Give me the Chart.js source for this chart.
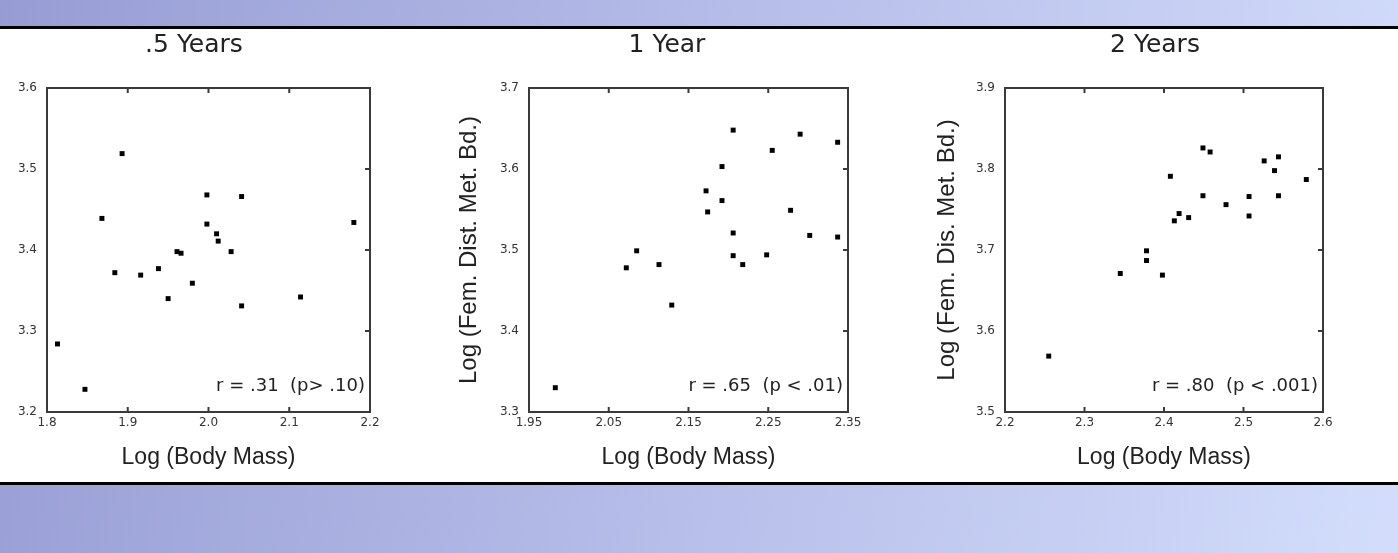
<!DOCTYPE html>
<html>
<head>
<meta charset="utf-8">
<script src="https://cdn.jsdelivr.net/npm/chart.js@4.4.1/dist/chart.umd.min.js"></script>
<style>
  html, body { margin: 0; padding: 0; }
  body {
    width: 1398px; height: 553px; overflow: hidden; position: relative;
    background: linear-gradient(100deg, #979dd4 0%, #b6bde9 50%, #d3ddfb 100%);
  }
  #sheet {
    position: absolute; left: 0; top: 26px; width: 1398px; height: 453px;
    background: #fff; border-top: 3px solid #000; border-bottom: 3px solid #000;
  }
  .panel { position: absolute; top: 29px; height: 453px; }
</style>
</head>
<body>
<div id="sheet"></div>
<div class="panel" style="left:-32px;width:452px"><canvas id="halfYear"></canvas></div>
<div class="panel" style="left:440px;width:454px"><canvas id="oneYear"></canvas></div>
<div class="panel" style="left:915px;width:480px"><canvas id="twoYears"></canvas></div>
<script>
// .5 years
var massHalf = [1.813, 1.847, 1.868, 1.884, 1.893, 1.916, 1.938, 1.950, 1.961, 1.966,
                1.980, 1.998, 1.998, 2.010, 2.012, 2.028, 2.041, 2.041, 2.114, 2.180]
var femHalf  = [3.284, 3.228, 3.439, 3.372, 3.519, 3.369, 3.377, 3.340, 3.398, 3.396,
                3.359, 3.468, 3.432, 3.420, 3.411, 3.398, 3.466, 3.331, 3.342, 3.434]
// 1 year
var massOne = [1.983, 2.072, 2.085, 2.113, 2.129, 2.172, 2.174, 2.192, 2.192, 2.206,
               2.206, 2.206, 2.218, 2.248, 2.255, 2.278, 2.290, 2.302, 2.337, 2.337]
var femOne  = [3.330, 3.478, 3.499, 3.482, 3.432, 3.573, 3.547, 3.603, 3.561, 3.648,
               3.521, 3.493, 3.482, 3.494, 3.623, 3.549, 3.643, 3.518, 3.633, 3.516]
// 2 years
var massTwo = [2.255, 2.345, 2.378, 2.378, 2.398, 2.408, 2.413, 2.419, 2.431, 2.449,
               2.449, 2.458, 2.478, 2.507, 2.507, 2.526, 2.539, 2.544, 2.544, 2.579]
var femTwo  = [3.569, 3.671, 3.699, 3.687, 3.669, 3.791, 3.736, 3.745, 3.740, 3.826,
               3.767, 3.821, 3.756, 3.766, 3.742, 3.810, 3.798, 3.815, 3.767, 3.787]

// tick values and their labels
var xTicksHalf = [1.8, 1.9, 2.0, 2.1, 2.2]
var xLabelsHalf = ['1.8', '1.9', '2.0', '2.1', '2.2']
var yTicksHalf = [3.2, 3.3, 3.4, 3.5, 3.6]
var yLabelsHalf = ['3.2', '3.3', '3.4', '3.5', '3.6']

var xTicksOne = [1.95, 2.05, 2.15, 2.25, 2.35]
var xLabelsOne = ['1.95', '2.05', '2.15', '2.25', '2.35']
var yTicksOne = [3.3, 3.4, 3.5, 3.6, 3.7]
var yLabelsOne = ['3.3', '3.4', '3.5', '3.6', '3.7']

var xTicksTwo = [2.2, 2.3, 2.4, 2.5, 2.6]
var xLabelsTwo = ['2.2', '2.3', '2.4', '2.5', '2.6']
var yTicksTwo = [3.5, 3.6, 3.7, 3.8, 3.9]
var yLabelsTwo = ['3.5', '3.6', '3.7', '3.8', '3.9']

var axisColor = '#3a3a3a'
var textColor = '#222'

// box around plot, inward tick marks, and the r / p note
var framePlugin = {
  id: 'frame',
  afterDatasetsDraw: function (chart, args, opts) {
    var ctx = chart.ctx
    var a = chart.chartArea
    var xs = chart.scales.x
    var ys = chart.scales.y
    ctx.save()
    ctx.strokeStyle = axisColor
    ctx.lineWidth = 2
    ctx.strokeRect(a.left, a.top, a.right - a.left, a.bottom - a.top)
    ctx.beginPath()
    for (var i = 1; i < xs.ticks.length - 1; i++) {
      var px = xs.getPixelForValue(xs.ticks[i].value)
      ctx.moveTo(px, a.top)
      ctx.lineTo(px, a.top + 5)
      ctx.moveTo(px, a.bottom)
      ctx.lineTo(px, a.bottom - 5)
    }
    for (var j = 1; j < ys.ticks.length - 1; j++) {
      var py = ys.getPixelForValue(ys.ticks[j].value)
      ctx.moveTo(a.right, py)
      ctx.lineTo(a.right - 5, py)
    }
    ctx.stroke()
    ctx.fillStyle = textColor
    ctx.font = '18px "DejaVu Sans", sans-serif'
    ctx.textAlign = 'right'
    ctx.textBaseline = 'middle'
    ctx.fillText(opts.note, a.right - 5, a.bottom - 26)
    ctx.restore()
  }
}

// pad = [left, right] layout padding, yAxisWidth = room for the y ticks,
// rightWidth = empty right scale that nudges the title sideways,
// yTitlePad pulls the y title out to the left of the scale box
function drawPanel(elementId, title, yTitle, note, xs, ys, xTicks, xLabels, yTicks, yLabels, yAxisWidth, rightWidth, yTitlePad, pad) {
  var ctx = document.getElementById(elementId).getContext('2d')
  var pts = []
  for (var i = 0; i < xs.length; i++) {
    pts.push({ x: xs[i], y: ys[i] })
  }
  return new Chart(ctx, {
    type: 'scatter',
    data: {
      datasets: [{
        data: pts,
        pointStyle: 'rect',
        pointRadius: 3.5,
        pointBorderWidth: 0,
        backgroundColor: '#000',
        borderColor: '#000'
      }]
    },
    options: {
      responsive: true,
      maintainAspectRatio: false,
      animation: false,
      layout: { padding: { top: 0, right: pad[1], bottom: 0, left: pad[0] } },
      plugins: {
        legend: { display: false },
        tooltip: { enabled: false },
        title: {
          display: true,
          text: title,
          color: textColor,
          font: { family: '"DejaVu Sans", sans-serif', size: 25, weight: 'normal', lineHeight: 1.2 },
          padding: { top: 1, bottom: 28 }
        },
        frame: { note: note }
      },
      scales: {
        x: {
          type: 'linear',
          min: xTicks[0],
          max: xTicks[xTicks.length - 1],
          afterBuildTicks: function (scale) {
            scale.ticks = xTicks.map(function (v) { return { value: v } })
          },
          afterFit: function (scale) { scale.height = 70 },
          grid: { display: false, drawTicks: false },
          border: { display: false },
          ticks: {
            padding: 4,
            color: '#333',
            maxRotation: 0,
            font: { family: '"DejaVu Sans", sans-serif', size: 12 },
            callback: function (v, i) { return xLabels[i] }
          },
          title: {
            display: true,
            text: 'Log (Body Mass)',
            color: textColor,
            font: { family: '"Liberation Sans", Arial, sans-serif', size: 23, lineHeight: 1.2 },
            padding: { top: 0, bottom: 11 }
          }
        },
        y: {
          type: 'linear',
          min: yTicks[0],
          max: yTicks[yTicks.length - 1],
          afterBuildTicks: function (scale) {
            scale.ticks = yTicks.map(function (v) { return { value: v } })
          },
          afterFit: function (scale) { scale.width = yAxisWidth },
          grid: { display: false, drawTicks: false },
          border: { display: false },
          ticks: {
            padding: 10,
            color: '#333',
            font: { family: '"DejaVu Sans", sans-serif', size: 12 },
            callback: function (v, i) { return yLabels[i] }
          },
          title: {
            display: true,
            text: yTitle,
            color: textColor,
            font: { family: '"Liberation Sans", Arial, sans-serif', size: 24, lineHeight: 1.2 },
            padding: { top: yTitlePad, bottom: 0 }
          }
        },
        yRight: {
          type: 'linear',
          position: 'right',
          min: yTicks[0],
          max: yTicks[yTicks.length - 1],
          afterFit: function (scale) { scale.width = rightWidth },
          grid: { display: false, drawTicks: false },
          border: { display: false },
          ticks: { display: false }
        }
      }
    },
    plugins: [framePlugin]
  })
}

drawPanel('halfYear', '.5 Years', 'Log (Fem. Dist. Met. Bd.)', 'r = .31  (p> .10)',
  massHalf, femHalf, xTicksHalf, xLabelsHalf, yTicksHalf, yLabelsHalf, 37, 8, -37, [42, 42])
drawPanel('oneYear', '1 Year', 'Log (Fem. Dist. Met. Bd.)', 'r = .65  (p < .01)',
  massOne, femOne, xTicksOne, xLabelsOne, yTicksOne, yLabelsOne, 43, 0, -31, [46, 46])
drawPanel('twoYears', '2 Years', 'Log (Fem. Dis. Met. Bd.)', 'r = .80  (p < .001)',
  massTwo, femTwo, xTicksTwo, xLabelsTwo, yTicksTwo, yLabelsTwo, 35, 17, -37, [55, 55])
</script>
</body>
</html>
